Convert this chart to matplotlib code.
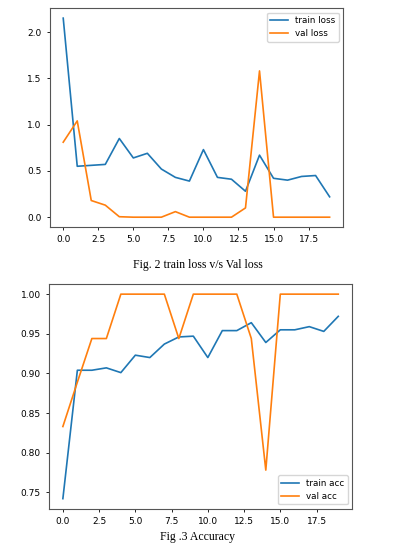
import matplotlib
matplotlib.use("Agg")
import matplotlib.pyplot as plt

epochs = list(range(20))
train_loss = [2.15, 0.55, 0.56, 0.57, 0.85, 0.64, 0.69, 0.52, 0.43, 0.39,
              0.73, 0.43, 0.41, 0.28, 0.67, 0.42, 0.40, 0.44, 0.45, 0.22]
val_loss = [0.81, 1.04, 0.18, 0.13, 0.005, 0.0, 0.0, 0.0, 0.06, 0.0,
            0.0, 0.0, 0.0, 0.10, 1.58, 0.0, 0.0, 0.0, 0.0, 0.0]
train_acc = [0.742, 0.904, 0.904, 0.907, 0.901, 0.923, 0.920, 0.937, 0.946, 0.947,
             0.920, 0.954, 0.954, 0.964, 0.939, 0.955, 0.955, 0.959, 0.953, 0.972]
val_acc = [0.833, 0.889, 0.944, 0.944, 1.0, 1.0, 1.0, 1.0, 0.944, 1.0,
           1.0, 1.0, 1.0, 0.944, 0.778, 1.0, 1.0, 1.0, 1.0, 1.0]

fig = plt.figure(figsize=(3.96, 5.46), dpi=100)

ax1 = fig.add_axes([0.126, 0.584, 0.740, 0.401])
ax1.plot(epochs, train_loss, label="train loss", lw=1.2)
ax1.plot(epochs, val_loss, label="val loss", lw=1.2)
ax1.set_xticks([0, 2.5, 5, 7.5, 10, 12.5, 15, 17.5])
ax1.tick_params(labelsize=6.5, length=2.5, width=0.6)
ax1.legend(loc="upper right", fontsize=6.3)
for s in ax1.spines.values():
    s.set_color("#555555")

ax2 = fig.add_axes([0.124, 0.068, 0.765, 0.412])
ax2.plot(epochs, train_acc, label="train acc", lw=1.2)
ax2.plot(epochs, val_acc, label="val acc", lw=1.2)
ax2.set_xticks([0, 2.5, 5, 7.5, 10, 12.5, 15, 17.5])
ax2.tick_params(labelsize=6.5, length=2.5, width=0.6)
ax2.legend(loc="lower right", fontsize=6.3)
for s in ax2.spines.values():
    s.set_color("#555555")

fig.text(0.5, 1 - 265 / 546, "Fig. 2 train loss v/s Val loss", ha="center", va="center",
         family="Liberation Serif", fontsize=8.5)
fig.text(0.5, 1 - 537 / 546, "Fig .3 Accuracy", ha="center", va="center",
         family="Liberation Serif", fontsize=8.5)

fig.savefig("out.png", dpi=100)
